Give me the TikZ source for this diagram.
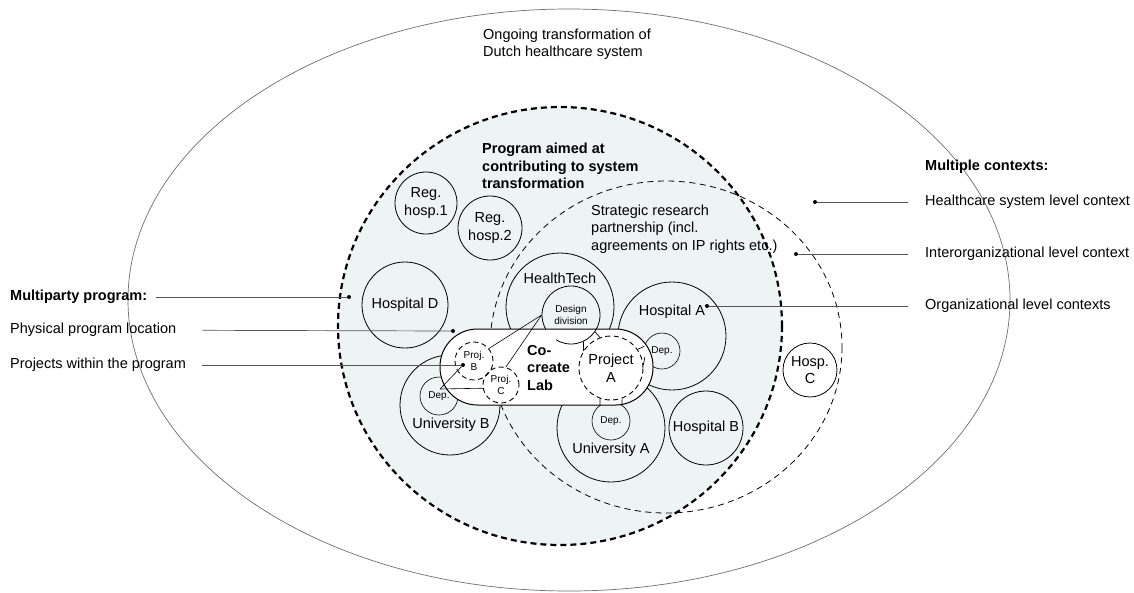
\documentclass[tikz,border=0pt]{standalone}
\usepackage{fontspec}
\setmainfont{Liberation Sans}
\usepackage{tikz}
\newcommand{\mainsize}{\fontsize{14.5}{17.5}\selectfont}
\newcommand{\smallsize}{\fontsize{10}{11.5}\selectfont}
\definecolor{progfill}{RGB}{238,243,244}
\definecolor{leadgrey}{RGB}{85,85,85}
\definecolor{outergrey}{RGB}{110,110,110}

\begin{document}
\begin{tikzpicture}[x=1pt, y=-1pt, font=\mainsize,
		org/.style={draw, circle, inner sep=0pt, line width=0.8pt, align=center},
		dep/.style={draw, circle, inner sep=0pt, line width=0.6pt, font=\smallsize},
		projc/.style={draw, circle, inner sep=0pt, line width=0.9pt, dash pattern=on 5pt off 3.5pt, align=center},
		small/.style={font=\smallsize},
		lead/.style={draw=leadgrey, line width=0.7pt},
		dot/.style={fill=black, circle, inner sep=0pt, minimum size=4pt},
		txt/.style={anchor=west, align=left, inner sep=0pt},
		bold/.style={font=\mainsize\bfseries}]
				\useasboundingbox (0,0) rectangle (1134,592);
				\draw[outergrey, line width=0.7pt] (569,300) ellipse (441 and 291);
				\filldraw[fill=progfill, line width=2.2pt, dash pattern=on 6pt off 4pt] (560,326) ellipse (222 and 219);
				\draw[line width=0.8pt, dash pattern=on 6pt off 4.5pt] (666,347) ellipse (176 and 166);

				\node[txt] (tTop) at (483,44) {Ongoing transformation of\\Dutch healthcare system};
				\node[txt, bold] (tProg) at (482,166) {Program aimed at\\contributing to system\\transformation};
				\node[txt] (tPart) at (591,229) {Strategic research\\partnership (incl.\\agreements on IP rights etc.)};

				\node[org, minimum size=62pt] (reg1) at (426,203) {Reg.\\hosp.1};
				\node[org, minimum size=64pt] (reg2) at (490,228) {Reg.\\hosp.2};
				\node[org, minimum size=86pt] (hospD) at (405,305) {Hospital D};
				\node[org, minimum size=108pt] (ht) at (560,307) {};
				\node[org, small, minimum size=58pt] (dd) at (571,315) {Design\\division};
				\node[org, minimum size=108pt] (hospA) at (672,336) {};
				\node[dep, minimum size=36pt] (depHA) at (662,351) {Dep.};
				\node[org, minimum size=108pt] (uniA) at (611,428) {};
				\node[dep, minimum size=38pt] (depUA) at (611,421) {Dep.};
				\node[org, minimum size=100pt] (uniB) at (450,405) {};
				\node[dep, minimum size=38pt] (depUB) at (439,396) {Dep.};
				\node[org, minimum size=74pt] (hospB) at (706,428) {Hospital B};
				\node[org, minimum size=54pt] (hospC) at (810,370) {Hosp.\\C};

				\node (lblHT) at (560,278) {HealthTech};
				\node (lblHA) at (672,312) {Hospital A};
				\node (lblUA) at (611,450) {University A};
				\node (lblUB) at (451,425) {University B};

				\node[draw, fill=white, line width=1pt, rounded corners=37.5pt, minimum width=213pt, minimum height=76pt, inner sep=0pt] (lab) at (546.5,367) {};
				\begin{scope}
					\clip (556,329) rectangle (600,352);
					\draw[line width=0.8pt] (dd.center) circle (29);
				\end{scope}
				\node[txt, bold] (tLab) at (527,368) {Co-\\create\\Lab};
				\node[projc, minimum size=64pt] (pA) at (611,368) {Project\\A};
				\node[projc, small, minimum size=38pt] (pB) at (474,361) {Proj.\\B};
				\node[projc, small, minimum size=36pt] (pC) at (501,385) {Proj.\\C};

				\draw[line width=0.7pt] (dd.-35) -- (pA.110);
				\draw[line width=0.7pt] (dd.-65) -- (pA.148);
				\draw[line width=0.7pt] (depHA.165) -- (pA.35);
				\draw[line width=0.7pt] (depHA.-160) -- (pA.5);
				\draw[line width=0.7pt] (depUA.125) -- (pA.-110);
				\draw[line width=0.7pt] (depUA.55) -- (pA.-70);

				\node[dot] (dMulti) at (349,297) {};
				\node[dot] (dPhys) at (453,331) {};
				\node[dot] (dProj) at (463,365) {};
				\node[dot] (dHealth) at (815,202) {};
				\node[dot] (dInter) at (796,254) {};
				\node[dot] (dOrg) at (707,306) {};
				\coordinate (apexUB) at (440,389);

				\draw[line width=0.6pt] (dd.west) -- (pB.40);
				\draw[line width=0.6pt] (dd.west) -- (pC.75);
				\draw[line width=0.6pt] (apexUB) -- (dProj);
				\draw[line width=0.6pt] (apexUB) -- (pC.190);

				\node[txt, bold] (tMulti) at (10,297) {Multiparty program:};
				\node[txt] (tPhys) at (10,330) {Physical program location};
				\node[txt] (tProj) at (10,365) {Projects within the program};
				\node[txt, bold] (tCtx) at (925,167) {Multiple contexts:};
				\node[txt] (tHealth) at (925,202) {Healthcare system level context};
				\node[txt] (tInter) at (925,254) {Interorganizational level context};
				\node[txt] (tOrg) at (925,306) {Organizational level contexts};

				\draw[lead, shorten <=9pt] (tMulti) -- (dMulti);
				\draw[lead, shorten <=26pt] (tPhys) -- (dPhys);
				\draw[lead, shorten <=16pt] (tProj) -- (dProj);
				\draw[lead, shorten >=17pt] (dHealth) -- (tHealth);
				\draw[lead, shorten >=17pt] (dInter) -- (tInter);
				\draw[lead, shorten >=17pt] (dOrg) -- (tOrg);
		\end{tikzpicture}
\end{document}
